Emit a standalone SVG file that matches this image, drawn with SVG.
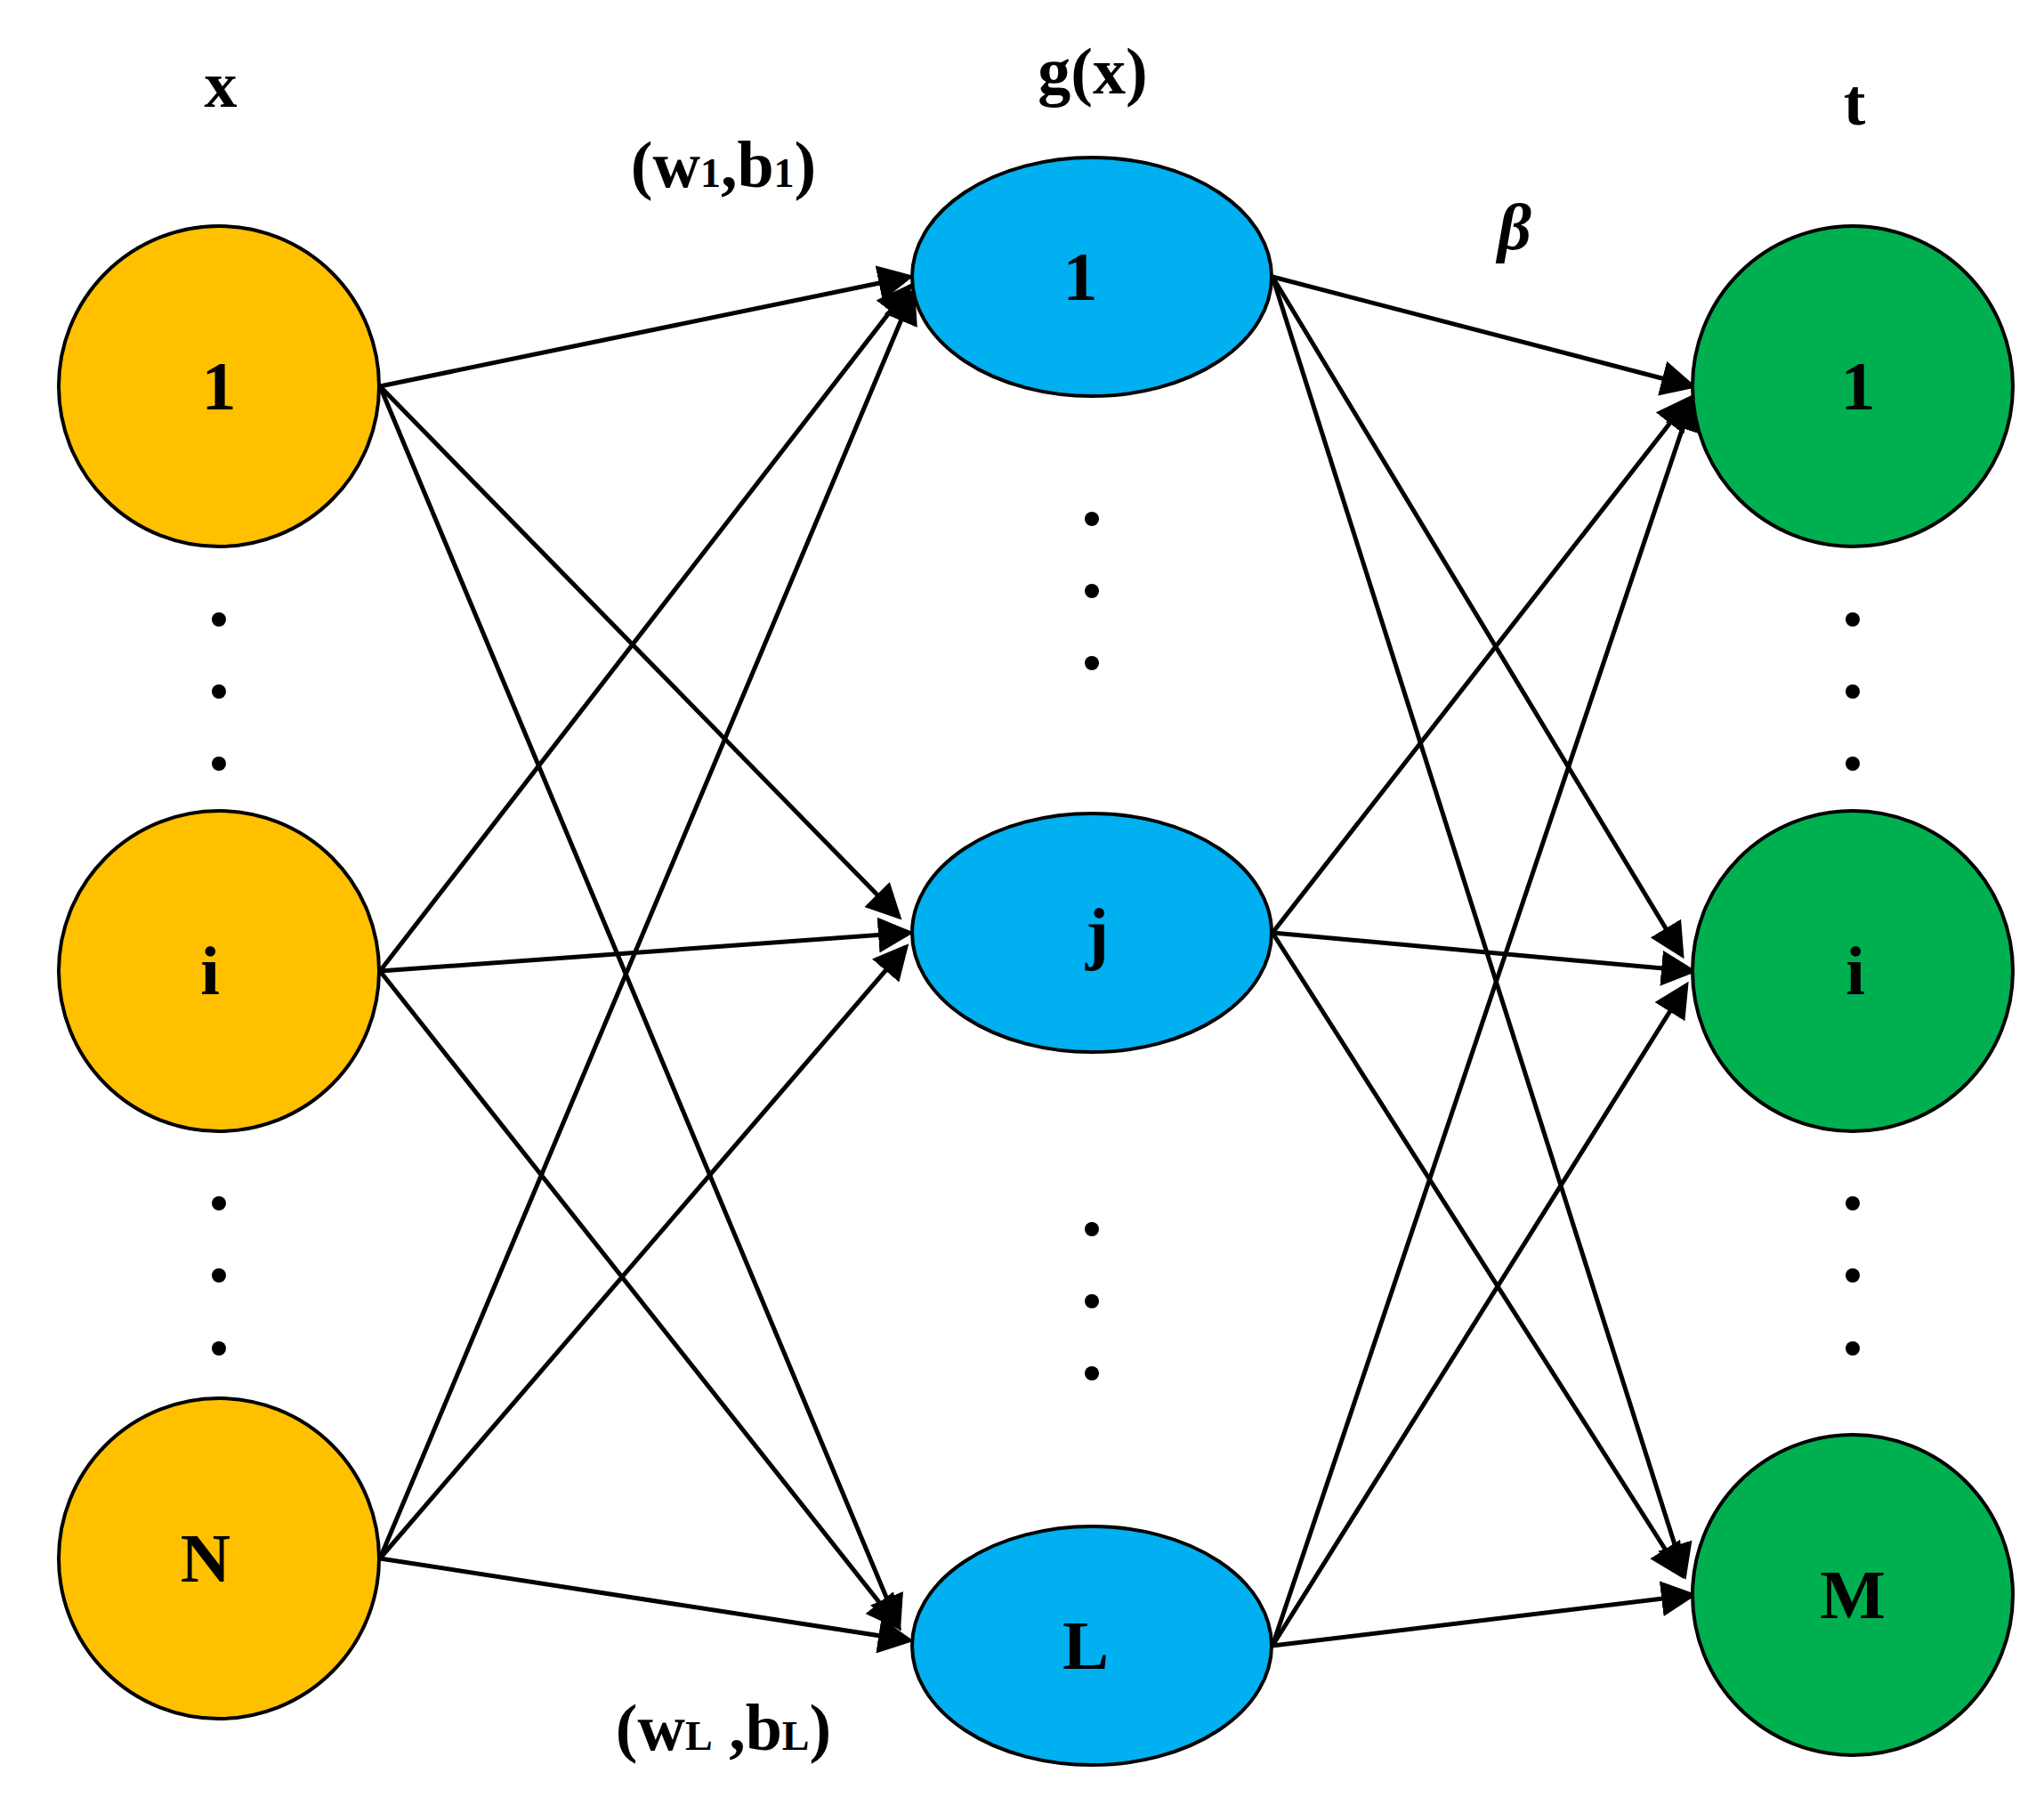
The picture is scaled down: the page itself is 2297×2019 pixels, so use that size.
<svg xmlns="http://www.w3.org/2000/svg" width="2297" height="2019" viewBox="0 0 2297 2019">
<style>
text{font-family:"Liberation Serif","Times New Roman",serif;font-weight:bold;fill:#000;text-anchor:middle}
.n{font-size:78px}
.h{font-size:74px}
.in{fill:#FFC000;stroke:#000;stroke-width:4}
.hid{fill:#00B0F0;stroke:#000;stroke-width:4}
.out{fill:#00B050;stroke:#000;stroke-width:4}
.e{stroke:#000;stroke-width:5;fill:none;marker-end:url(#a)}
.d{fill:#000}
</style>
<defs>
<marker id="a" markerWidth="8" markerHeight="8" refX="7" refY="4" orient="auto" markerUnits="strokeWidth">
<path d="M0,0 L8,4 L0,8 Z" fill="#000"/>
</marker>
</defs>
<rect width="2297" height="2019" fill="#fff"/>
<g id="connectors">
<line class="e" x1="427" y1="434" x2="1022" y2="311"/>
<line class="e" x1="427" y1="434" x2="1010" y2="1030"/>
<line class="e" x1="427" y1="434" x2="1010" y2="1828"/>
<line class="e" x1="427" y1="1091" x2="1022" y2="322"/>
<line class="e" x1="427" y1="1091" x2="1022" y2="1048"/>
<line class="e" x1="427" y1="1091" x2="1010" y2="1828"/>
<line class="e" x1="427" y1="1751" x2="1026" y2="328"/>
<line class="e" x1="427" y1="1751" x2="1018" y2="1064"/>
<line class="e" x1="427" y1="1751" x2="1022" y2="1843"/>
<line class="e" x1="1430" y1="311" x2="1902" y2="434"/>
<line class="e" x1="1430" y1="311" x2="1890" y2="1073"/>
<line class="e" x1="1430" y1="311" x2="1893" y2="1770"/>
<line class="e" x1="1430" y1="1048" x2="1898" y2="448"/>
<line class="e" x1="1430" y1="1048" x2="1902" y2="1091"/>
<line class="e" x1="1430" y1="1048" x2="1890" y2="1770"/>
<line class="e" x1="1430" y1="1849" x2="1902" y2="448"/>
<line class="e" x1="1430" y1="1849" x2="1895" y2="1107"/>
<line class="e" x1="1430" y1="1849" x2="1902" y2="1792"/>
</g>
<g id="in1"><circle class="in" cx="246" cy="434" r="180"/><text class="n" x="246" y="460">1</text></g>
<g id="ini"><circle class="in" cx="246" cy="1091" r="180"/><text class="n" x="236" y="1117">i</text></g>
<g id="inN"><circle class="in" cx="246" cy="1751" r="180"/><text class="n" x="231" y="1777">N</text></g>
<g id="hid1"><ellipse class="hid" cx="1227" cy="311" rx="202" ry="134"/><text class="n" x="1214" y="337">1</text></g>
<g id="hidj"><ellipse class="hid" cx="1227" cy="1048" rx="202" ry="134"/><text class="n" x="1233" y="1074">j</text></g>
<g id="hidL"><ellipse class="hid" cx="1227" cy="1849" rx="202" ry="134"/><text class="n" x="1220" y="1875">L</text></g>
<g id="out1"><circle class="out" cx="2082" cy="434" r="180"/><text class="n" x="2088" y="460">1</text></g>
<g id="outi"><circle class="out" cx="2082" cy="1091" r="180"/><text class="n" x="2085" y="1117">i</text></g>
<g id="outM"><circle class="out" cx="2082" cy="1792" r="180"/><text class="n" x="2082" y="1818">M</text></g>
<g id="dots">
<circle class="d" cx="246" cy="696" r="8"/><circle class="d" cx="246" cy="777" r="8"/><circle class="d" cx="246" cy="858" r="8"/>
<circle class="d" cx="246" cy="1352" r="8"/><circle class="d" cx="246" cy="1433" r="8"/><circle class="d" cx="246" cy="1515" r="8"/>
<circle class="d" cx="1227" cy="583" r="8"/><circle class="d" cx="1227" cy="664" r="8"/><circle class="d" cx="1227" cy="745" r="8"/>
<circle class="d" cx="1227" cy="1381" r="8"/><circle class="d" cx="1227" cy="1462" r="8"/><circle class="d" cx="1227" cy="1543" r="8"/>
<circle class="d" cx="2082" cy="696" r="8"/><circle class="d" cx="2082" cy="777" r="8"/><circle class="d" cx="2082" cy="858" r="8"/>
<circle class="d" cx="2082" cy="1352" r="8"/><circle class="d" cx="2082" cy="1433" r="8"/><circle class="d" cx="2082" cy="1515" r="8"/>
</g>
<g id="labels">
<text class="h" x="248" y="120">x</text>
<text class="h" x="1228" y="105">g(x)</text>
<text class="h" x="2084" y="140">t</text>
<text class="h" x="813" y="210">(w<tspan font-size="46">1</tspan>,b<tspan font-size="46">1</tspan>)</text>
<text class="h" x="1702" y="280" font-style="italic">β</text>
<text class="h" x="813" y="1966">(w<tspan font-size="46">L</tspan> ,b<tspan font-size="46">L</tspan>)</text>
</g>
</svg>
